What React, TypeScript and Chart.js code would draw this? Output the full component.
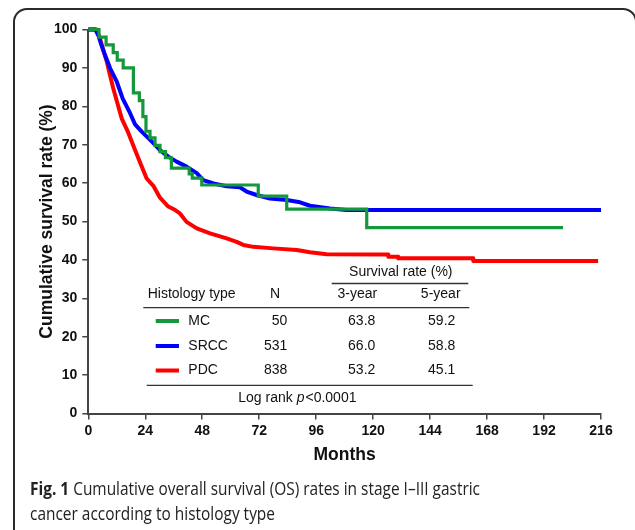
import React, { useEffect, useLayoutEffect, useRef } from "react";
import { Chart, registerables } from "chart.js";

Chart.register(...registerables);

// ---------- data ----------
const xTicks = [0, 24, 48, 72, 96, 120, 144, 168, 192, 216];
const yTicks = [0, 10, 20, 30, 40, 50, 60, 70, 80, 90, 100];

const mcMonths = [0, 4.5, 7.5, 10.5, 12.2, 14.7, 19, 21.5, 23, 24.3, 26, 28.1, 30.2, 32.5, 35, 42.5, 43.8, 47.8, 71.6, 83.6, 117.3, 200];
const mcSurvival = [100, 98, 96, 94, 92, 90, 83.5, 81.5, 77.3, 73.5, 71.8, 69.8, 68.2, 66.6, 63.9, 62.4, 61.3, 59.5, 56.6, 53.2, 48.4, 48.4];

const srccMonths = [0, 3, 4.2, 5.5, 7, 9.2, 12, 14.5, 17.6, 19.7, 22.5, 25.3, 27.4, 30.2, 33.7, 37.2, 41.4, 45.7, 48.4, 52.7, 58.3, 63.9, 66.7, 70.9, 76.5, 83.6, 89.2, 93.4, 101.8, 108.8, 216];
const srccSurvival = [100, 100, 98.5, 96, 93.4, 89.9, 86.4, 82, 78.2, 75.3, 73.4, 71.7, 70.4, 68.6, 66.9, 65.6, 64.3, 62.6, 60.8, 59.9, 59.2, 58.9, 57.8, 56.9, 56.0, 55.6, 55.0, 54.1, 53.4, 53.0, 53.0];

const pdcMonths = [0, 3.5, 4.9, 6.3, 7.8, 9.1, 10.5, 12, 14.1, 16.8, 19.7, 22.5, 24.6, 27.4, 30.2, 33.7, 36, 38.6, 41.4, 45.7, 51.3, 58.3, 62.5, 65.3, 69.5, 77.9, 87.8, 93.4, 100.4, 126.3, 126.4, 130.5, 130.6, 162.1, 162.2, 214.8];
const pdcSurvival = [100, 100, 97.7, 94.7, 91.6, 88.2, 84.7, 81.4, 76.8, 73.2, 68.6, 64.3, 61.2, 59.3, 56.2, 53.9, 53.2, 52.1, 49.9, 48.2, 46.9, 45.6, 44.7, 43.9, 43.4, 43.0, 42.6, 42.0, 41.5, 41.4, 40.8, 40.8, 40.4, 40.4, 39.7, 39.7];

const histologyTypes = ["MC", "SRCC", "PDC"];
const patientCounts = ["50", "531", "838"];
const threeYearRates = ["63.8", "66.0", "53.2"];
const fiveYearRates = ["59.2", "58.8", "45.1"];
const seriesColors = ["#14983c", "#0000ff", "#ff0000"];
const seriesWidths = [3.2, 4, 4];

const FONT = "'Liberation Sans', Arial, Helvetica, sans-serif";

const toPoints = (xs: number[], ys: number[]) => xs.map((x, i) => ({ x, y: ys[i] }));

const tablePlugin = {
  id: "histologyTable",
  afterDraw(chart: any) {
    const ctx: CanvasRenderingContext2D = chart.ctx;
    ctx.save();
    ctx.fillStyle = "#111";
    ctx.strokeStyle = "#333";
    ctx.lineWidth = 1.3;
    ctx.font = `14px ${FONT}`;
    ctx.textBaseline = "middle";

    const hline = (x1: number, x2: number, y: number) => {
      ctx.beginPath();
      ctx.moveTo(x1, y);
      ctx.lineTo(x2, y);
      ctx.stroke();
    };

    ctx.textAlign = "center";
    ctx.fillText("Survival rate (%)", 400.8, 272);
    hline(331.7, 468.3, 283.5);

    ctx.textAlign = "left";
    ctx.fillText("Histology type", 147.7, 294);
    ctx.textAlign = "center";
    ctx.fillText("N", 275, 294);
    ctx.fillText("3-year", 357.3, 294);
    ctx.fillText("5-year", 440.7, 294);
    hline(143.3, 469.3, 307.7);

    const rowY = [321, 346, 370.5];
    histologyTypes.forEach((name, i) => {
      const y = rowY[i];
      ctx.save();
      ctx.strokeStyle = seriesColors[i];
      ctx.lineWidth = 4;
      ctx.beginPath();
      ctx.moveTo(155.7, y);
      ctx.lineTo(179, y);
      ctx.stroke();
      ctx.restore();
      ctx.textAlign = "left";
      ctx.fillText(name, 188.3, y);
      ctx.textAlign = "right";
      ctx.fillText(patientCounts[i], 287.3, y);
      ctx.textAlign = "center";
      ctx.fillText(threeYearRates[i], 361.7, y);
      ctx.fillText(fiveYearRates[i], 441.7, y);
    });
    hline(146.7, 472.7, 385.3);

    ctx.textAlign = "left";
    const part1 = "Log rank ";
    ctx.fillText(part1, 238.3, 398.5);
    let x = 238.3 + ctx.measureText(part1).width;
    ctx.font = `italic 14px ${FONT}`;
    ctx.fillText("p", x, 398.5);
    x += ctx.measureText("p").width + 1;
    ctx.font = `14px ${FONT}`;
    ctx.fillText("<0.0001", x, 398.5);
    ctx.restore();
  },
};

export default function App() {
  const canvasRef = useRef<HTMLCanvasElement>(null);
  const capRef = useRef<HTMLDivElement>(null);
  const line1Ref = useRef<HTMLSpanElement>(null);

  useLayoutEffect(() => {
    const line = line1Ref.current;
    const cap = capRef.current;
    if (!line || !cap) return;
    const w = line.getBoundingClientRect().width;
    if (w > 0) {
      cap.style.transform = `scaleX(${450 / w})`;
    }
  }, []);

  useEffect(() => {
    const canvas = canvasRef.current;
    if (!canvas) return;
    Chart.defaults.font.family = FONT;
    const tickFont = { family: FONT, size: 14, weight: "bold" as const };
    const titleFont = { family: FONT, size: 17.5, weight: "bold" as const };
    const chart = new Chart(canvas, {
      type: "line",
      data: {
        datasets: [
          { label: histologyTypes[0], data: toPoints(mcMonths, mcSurvival), borderColor: seriesColors[0], borderWidth: seriesWidths[0], stepped: "before", pointRadius: 0, fill: false, clip: false as any },
          { label: histologyTypes[1], data: toPoints(srccMonths, srccSurvival), borderColor: seriesColors[1], borderWidth: seriesWidths[1], tension: 0, pointRadius: 0, fill: false, clip: false as any, borderJoinStyle: "round" },
          { label: histologyTypes[2], data: toPoints(pdcMonths, pdcSurvival), borderColor: seriesColors[2], borderWidth: seriesWidths[2], tension: 0, pointRadius: 0, fill: false, clip: false as any, borderJoinStyle: "round" },
        ],
      },
      options: {
        responsive: false,
        animation: false,
        devicePixelRatio: 1,
        layout: { padding: { left: 30, right: 34, top: 29.5, bottom: 60 } },
        plugins: { legend: { display: false }, tooltip: { enabled: false }, title: { display: false } },
        scales: {
          x: {
            type: "linear",
            min: 0,
            max: 216,
            afterBuildTicks: (scale: any) => {
              scale.ticks = xTicks.map((v) => ({ value: v }));
            },
            afterFit: (scale: any) => {
              scale.height = 56.5;
            },
            ticks: { font: tickFont, color: "#111", padding: 3, maxRotation: 0, autoSkip: false },
            grid: { drawOnChartArea: false, drawTicks: true, tickLength: 6, color: "#444", lineWidth: 1.5 },
            border: { display: true, color: "#444", width: 2 },
            title: { display: true, text: "Months", font: titleFont, color: "#111", padding: { top: 0, bottom: 4.5 } },
          },
          y: {
            type: "linear",
            min: 0,
            max: 100,
            afterBuildTicks: (scale: any) => {
              scale.ticks = yTicks.map((v) => ({ value: v }));
            },
            afterFit: (scale: any) => {
              scale.width = 58.3;
            },
            ticks: { font: tickFont, color: "#111", padding: 5, autoSkip: false },
            grid: { drawOnChartArea: false, drawTicks: true, tickLength: 6, color: "#444", lineWidth: 1.5 },
            border: { display: true, color: "#444", width: 2 },
            title: { display: true, text: "Cumulative survival rate (%)", font: titleFont, color: "#111", padding: { top: 6.2, bottom: 0 } },
          },
        },
      },
      plugins: [tablePlugin],
    } as any);
    return () => chart.destroy();
  }, []);

  return (
    <div style={{ position: "absolute", left: 0, top: 0, width: 635, height: 530, overflow: "hidden", background: "#fff" }}>
      <div
        style={{
          position: "absolute",
          left: 13,
          top: 8,
          width: 624,
          height: 545,
          boxSizing: "border-box",
          border: "2px solid #2a2a2a",
          borderRadius: 14,
        }}
      />
      <canvas ref={canvasRef} width={635} height={530} style={{ position: "absolute", left: 0, top: 0, width: 635, height: 530 }} />
      <div
        ref={capRef}
        style={{
          position: "absolute",
          left: 30,
          top: 475.5,
          fontFamily: "'Open Sans', 'Noto Sans', sans-serif",
          fontSize: 18,
          lineHeight: "25px",
          color: "#222",
          whiteSpace: "nowrap",
          transformOrigin: "0 0",
        }}
      >
        <span ref={line1Ref} style={{ display: "inline-block" }}>
          <b>Fig. 1</b> Cumulative overall survival (OS) rates in stage I–III gastric
        </span>
        <br />
        <span style={{ display: "inline-block" }}>cancer according to histology type</span>
      </div>
    </div>
  );
}
